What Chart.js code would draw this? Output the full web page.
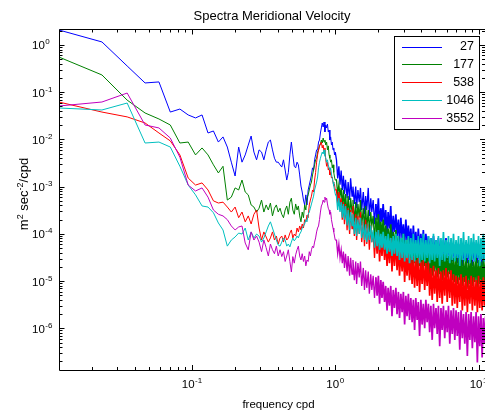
<!DOCTYPE html>
<html><head><meta charset="utf-8">
<script src="https://cdn.jsdelivr.net/npm/chart.js@4.4.1/dist/chart.umd.min.js"></script>
<style>html,body{margin:0;padding:0;background:#fff;}#wrap{width:485px;height:414px;}</style>
</head><body><div id="wrap"><canvas id="c" width="485" height="414"></canvas></div>
<script>
// ---- data ----
const freqLow = [0.01176,0.02353,0.03529,0.04706,0.05882,0.07059,0.08235,0.09412,0.1059,0.1176,
0.1294,0.1412,0.1529,0.1647,0.1765,0.1882,0.2,0.2118,0.2235,0.2353,
0.2471,0.2588,0.2706,0.2824,0.2941,0.3059,0.3176,0.3294,0.3412,0.3529,
0.3647,0.3765,0.3882,0.4,0.4118,0.4235,0.4353,0.4471,0.4588,0.4706,
0.4824,0.4941,0.5059,0.5176,0.5294,0.5412,0.5529,0.5647,0.5765,0.5882,
0.6,0.6118,0.6235,0.6353,0.6471,0.6588,0.6706,0.6824,0.6941,0.7059,
0.7176,0.7294,0.7412,0.7529,0.7647,0.7765,0.7882,0.8,0.8118,0.8235,
0.8353,0.8471,0.8588,0.8706,0.8824,0.8941,0.9059,0.9176,0.9294,0.9412,
0.9529,0.9647,0.9765,0.9882,1.0];
const freqHigh = [1.02,1.04,1.06,1.08,1.10,1.12,1.14,1.16,1.18,1.21,
1.23,1.26,1.28,1.31,1.33,1.36,1.39,1.41,1.44,1.47,
1.50,1.53,1.57,1.60,1.63,1.66,1.70,1.73,1.77,1.80,
1.84,1.88,1.92,1.96,2.00,2.04,2.08,2.12,2.16,2.21,
2.25,2.30,2.34,2.39,2.44,2.49,2.54,2.59,2.65,2.70,
2.76,2.81,2.87,2.93,2.99,3.05,3.11,3.17,3.24,3.30,
3.37,3.44,3.51,3.58,3.65,3.73,3.80,3.88,3.96,4.04,
4.12,4.21,4.29,4.38,4.47,4.56,4.65,4.75,4.85,4.94,
5.05,5.15,5.25,5.36,5.47,5.58,5.69,5.81,5.93,6.05,
6.17,6.30,6.43,6.56,6.69,6.83,6.97,7.11,7.25,7.40,
7.55,7.71,7.86,8.02,8.19,8.36,8.53,8.70,8.88,9.06,
9.24,9.43,9.62,9.82,10.0,10.2,10.4,10.6,10.8,11.0,
11.2];

const psd27Low = [2.08,1.16,0.359,0.157,0.165,0.038,0.044,0.033,0.0285,0.033,
0.0137,0.0151,0.0088,0.0113,0.0069,0.0033,0.00168,0.0069,0.0033,0.0047,
0.0076,0.0118,0.0054,0.0037,0.0060,0.0054,0.0037,0.0060,0.0088,0.0097,
0.0060,0.0040,0.0033,0.0033,0.0029,0.0026,0.0037,0.00225,0.00138,0.0020,
0.0047,0.0088,0.0047,0.0027,0.0025,0.0033,0.0029,0.00177,0.00103,7.7e-4,
5.2e-4,4.1e-4,6.7e-4,4.1e-4,8.5e-4,1.08e-3,1.38e-3,1.77e-3,2.5e-3,2.25e-3,
3.7e-3,4.7e-3,6.0e-3,6.0e-3,8.8e-3,9.7e-3,0.0137,0.0175,0.0223,0.0183,
0.0234,0.0144,0.0202,0.0175,0.0212,0.0144,0.0158,0.0097,0.0113,0.0076,
0.0088,0.0060,0.0066,0.0047,0.0054];
const psd27High = [3.7e-3,1.5e-3,2.7e-3,1.1e-3,2.2e-3,8.5e-4,1.7e-3,7.0e-4,1.4e-3,5.7e-4,
1.25e-3,5.2e-4,1.5e-3,6.3e-4,1.0e-3,4.3e-4,1.0e-3,3.5e-4,8.5e-4,4.7e-4,
9.4e-4,3.2e-4,7.7e-4,2.6e-4,6.3e-4,3.2e-4,9.4e-4,2.4e-4,5.7e-4,2.9e-4,
5.2e-4,1.6e-4,4.3e-4,2.0e-4,5.7e-4,1.3e-4,3.5e-4,1.8e-4,4.3e-4,1.5e-4,
3.2e-4,1.0e-4,2.9e-4,1.3e-4,3.9e-4,8.2e-5,2.4e-4,1.1e-4,2.6e-4,9.0e-5,
2.0e-4,6.7e-5,2.2e-4,8.2e-5,1.6e-4,5.5e-5,2.0e-4,7.4e-5,1.5e-4,6.1e-5,
1.3e-4,4.6e-5,1.5e-4,5.5e-5,1.1e-4,4.2e-5,1.3e-4,5.1e-5,1.0e-4,4.6e-5,
1.2e-4,3.8e-5,1.0e-4,5.1e-5,9.0e-5,3.4e-5,8.2e-5,3.1e-5,9.0e-5,3.8e-5,
7.4e-5,2.8e-5,8.2e-5,3.4e-5,6.7e-5,2.6e-5,7.4e-5,3.4e-5,8.2e-5,2.8e-5,
6.7e-5,3.1e-5,7.4e-5,2.6e-5,6.1e-5,2.8e-5,6.7e-5,2.4e-5,6.1e-5,2.6e-5,
7.4e-5,2.1e-5,5.5e-5,2.8e-5,6.7e-5,2.4e-5,5.5e-5,2.6e-5,6.1e-5,2.1e-5,
6.7e-5,2.6e-5,5.1e-5,2.4e-5,6.1e-5,2.8e-5,5.5e-5,2.1e-5,6.1e-5,2.6e-5,
5.1e-5];

const psd177Low = [0.557,0.232,0.068,0.0363,0.0271,0.0202,0.0084,0.0088,0.0047,0.0066,
0.0047,0.0029,0.00195,0.0027,5.2e-4,6.0e-4,9.4e-4,8.5e-4,1.38e-3,7.7e-4,
6.7e-4,4.1e-4,3.7e-4,2.9e-4,3.5e-4,5.2e-4,2.9e-4,4.1e-4,3.2e-4,4.5e-4,
2.4e-4,3.5e-4,4.1e-4,2.9e-4,3.5e-4,2.6e-4,2.2e-4,3.2e-4,3.9e-4,2.6e-4,
4.7e-4,5.7e-4,3.2e-4,2.6e-4,4.3e-4,3.2e-4,3.9e-4,2.4e-4,1.8e-4,2.9e-4,
2.2e-4,4.1e-4,3.2e-4,5.7e-4,6.7e-4,8.5e-4,1.08e-3,1.25e-3,1.77e-3,2.25e-3,
2.9e-3,3.7e-3,4.0e-3,5.4e-3,6.0e-3,7.3e-3,8.0e-3,9.7e-3,8.4e-3,0.0107,
8.8e-3,9.7e-3,7.6e-3,8.8e-3,6.0e-3,7.3e-3,4.7e-3,4.0e-3,3.3e-3,3.7e-3,
2.5e-3,2.9e-3,2.0e-3,1.6e-3,1.38e-3];
const psd177High = [1.4e-3,7.0e-4,1.1e-3,6.3e-4,9.4e-4,3.9e-4,8.5e-4,3.2e-4,7.0e-4,2.6e-4,
6.3e-4,2.2e-4,5.7e-4,2.9e-4,5.2e-4,1.8e-4,4.7e-4,1.6e-4,4.3e-4,2.2e-4,
5.2e-4,1.5e-4,3.5e-4,1.2e-4,3.9e-4,1.3e-4,3.2e-4,1.1e-4,2.9e-4,1.5e-4,
2.4e-4,7.4e-5,2.2e-4,9.0e-5,2.6e-4,6.1e-5,1.8e-4,8.2e-5,2.0e-4,6.7e-5,
1.5e-4,4.6e-5,1.3e-4,5.5e-5,1.6e-4,3.8e-5,1.1e-4,5.1e-5,1.2e-4,4.2e-5,
9.0e-5,2.8e-5,8.2e-5,3.4e-5,1.0e-4,2.4e-5,7.4e-5,3.1e-5,8.2e-5,2.6e-5,
6.1e-5,1.9e-5,6.7e-5,2.4e-5,5.5e-5,1.7e-5,6.1e-5,2.1e-5,5.1e-5,1.6e-5,
5.5e-5,2.1e-5,4.6e-5,1.7e-5,5.1e-5,1.4e-5,4.2e-5,1.3e-5,4.6e-5,1.6e-5,
3.8e-5,1.2e-5,4.2e-5,1.4e-5,3.4e-5,1.05e-5,3.8e-5,1.3e-5,4.2e-5,1.2e-5,
3.4e-5,1.4e-5,3.8e-5,1.05e-5,3.1e-5,9.6e-6,3.4e-5,8.7e-6,3.1e-5,1.05e-5,
3.4e-5,7.9e-6,2.8e-5,9.6e-6,3.1e-5,7.2e-6,2.8e-5,8.7e-6,3.4e-5,7.9e-6,
2.6e-5,9.6e-6,3.1e-5,7.2e-6,2.8e-5,8.7e-6,2.6e-5,7.9e-6,3.1e-5,8.7e-6,
2.6e-5];

const psd538Low = [0.062,0.038,0.030,0.0223,0.0137,0.0093,0.0047,1.52e-3,1.08e-3,1.2e-3,
8.5e-4,5.0e-4,4.5e-4,4.7e-4,3.7e-4,2.9e-4,3.7e-4,2.2e-4,2.9e-4,1.8e-4,
2.4e-4,1.62e-4,2.6e-4,3.2e-4,1.33e-4,7.4e-5,1.1e-4,8.6e-5,6.7e-5,8.2e-5,
1.1e-4,7.4e-5,9.0e-5,6.1e-5,8.2e-5,9.0e-5,6.7e-5,9.5e-5,7.4e-5,8.2e-5,
1.04e-4,1.21e-4,8.2e-5,9.9e-5,9.0e-5,1.33e-4,1.1e-4,1.47e-4,1.21e-4,1.62e-4,
1.33e-4,2.0e-4,1.8e-4,2.5e-4,2.2e-4,4.1e-4,5.2e-4,6.3e-4,8.5e-4,7.7e-4,
1.38e-3,2.0e-3,3.3e-3,4.7e-3,6.0e-3,7.3e-3,8.0e-3,8.8e-3,6.6e-3,7.6e-3,
5.4e-3,6.6e-3,3.7e-3,2.7e-3,3.3e-3,2.25e-3,2.5e-3,1.77e-3,2.0e-3,1.52e-3,
1.6e-3,1.25e-3,1.03e-3,1.13e-3,8.5e-4];
const psd538High = [8.5e-4,4.3e-4,7.7e-4,3.9e-4,5.7e-4,2.0e-4,4.7e-4,1.6e-4,4.3e-4,1.2e-4,
3.5e-4,1.0e-4,3.2e-4,1.3e-4,3.9e-4,9.0e-5,2.6e-4,7.4e-5,2.4e-4,1.0e-4,
2.9e-4,6.7e-5,1.8e-4,5.5e-5,2.0e-4,6.1e-5,1.6e-4,4.6e-5,1.5e-4,6.7e-5,
1.1e-4,3.1e-5,1.0e-4,3.8e-5,1.2e-4,2.6e-5,9.0e-5,3.4e-5,1.0e-4,2.8e-5,
7.4e-5,2.1e-5,6.7e-5,2.4e-5,8.2e-5,1.6e-5,6.1e-5,2.1e-5,6.7e-5,1.7e-5,
4.6e-5,1.3e-5,4.2e-5,1.6e-5,5.1e-5,9.6e-6,3.8e-5,1.3e-5,4.2e-5,1.05e-5,
3.1e-5,8.7e-6,3.4e-5,7.2e-6,2.8e-5,7.9e-6,3.1e-5,5.9e-6,2.6e-5,8.7e-6,
2.8e-5,6.5e-6,2.4e-5,7.9e-6,2.6e-5,4.9e-6,1.9e-5,4.0e-6,2.1e-5,5.4e-6,
1.7e-5,3.6e-6,1.9e-5,4.4e-6,1.6e-5,3.3e-6,1.7e-5,4.9e-6,1.9e-5,3.6e-6,
1.6e-5,4.4e-6,1.7e-5,3.0e-6,1.4e-5,3.3e-6,1.3e-5,2.7e-6,1.2e-5,3.6e-6,
1.4e-5,2.4e-6,1.2e-5,3.0e-6,1.3e-5,2.2e-6,1.05e-5,3.3e-6,1.3e-5,2.4e-6,
1.2e-5,3.0e-6,1.05e-5,2.2e-6,1.3e-5,2.7e-6,1.05e-5,2.4e-6,1.2e-5,3.0e-6,
1.05e-5];

const psd1046Low = [0.0463,0.042,0.059,8.4e-3,8.8e-3,6.9e-3,2.7e-3,1.08e-3,6.7e-4,3.9e-4,
3.7e-4,2.8e-4,1.7e-4,1.21e-4,5.5e-5,7.4e-5,8.6e-5,1.04e-4,9.9e-5,1.33e-4,
7.4e-5,1.1e-4,8.2e-5,9.9e-5,9.0e-5,6.7e-5,8.2e-5,1.1e-4,1.47e-4,1.8e-4,
1.33e-4,9.9e-5,7.4e-5,5.8e-5,5.5e-5,6.7e-5,8.2e-5,7.4e-5,5.5e-5,6.1e-5,
5.3e-5,6.7e-5,8.2e-5,7.1e-5,7.8e-5,9.0e-5,8.2e-5,9.9e-5,1.1e-4,1.33e-4,
1.47e-4,1.62e-4,2.0e-4,1.8e-4,2.6e-4,2.9e-4,3.5e-4,4.3e-4,5.2e-4,6.3e-4,
8.5e-4,1.03e-3,1.25e-3,1.6e-3,2.5e-3,3.3e-3,4.0e-3,4.7e-3,5.4e-3,4.9e-3,
6.0e-3,4.5e-3,4.0e-3,3.3e-3,3.7e-3,2.9e-3,2.5e-3,2.25e-3,2.5e-3,1.85e-3,
1.52e-3,1.25e-3,1.03e-3,8.5e-4,7.0e-4];
const psd1046High = [6.3e-4,3.2e-4,5.7e-4,2.9e-4,4.7e-4,2.2e-4,4.3e-4,2.0e-4,3.9e-4,1.5e-4,
3.2e-4,1.2e-4,2.9e-4,1.5e-4,2.6e-4,1.0e-4,2.2e-4,9.0e-5,2.0e-4,1.0e-4,
2.2e-4,8.2e-5,1.5e-4,7.4e-5,1.6e-4,6.7e-5,1.3e-4,7.4e-5,1.5e-4,6.7e-5,
1.2e-4,5.1e-5,1.1e-4,5.5e-5,1.2e-4,4.6e-5,1.0e-4,5.1e-5,1.1e-4,4.6e-5,
9.0e-5,3.8e-5,1.0e-4,4.2e-5,8.2e-5,3.4e-5,9.0e-5,3.8e-5,1.0e-4,3.4e-5,
9.0e-5,2.8e-5,8.2e-5,3.1e-5,1.0e-4,2.6e-5,7.4e-5,3.1e-5,9.0e-5,2.4e-5,
8.2e-5,2.8e-5,1.0e-4,2.6e-5,7.4e-5,3.1e-5,9.0e-5,2.4e-5,8.2e-5,2.8e-5,
1.0e-4,2.6e-5,7.4e-5,3.1e-5,9.0e-5,2.4e-5,8.2e-5,2.8e-5,1.0e-4,2.6e-5,
7.4e-5,3.1e-5,9.0e-5,2.1e-5,8.2e-5,2.8e-5,1.1e-4,2.6e-5,7.4e-5,3.1e-5,
9.0e-5,2.4e-5,8.2e-5,2.8e-5,1.0e-4,2.6e-5,7.4e-5,3.1e-5,9.0e-5,2.1e-5,
8.2e-5,2.8e-5,1.1e-4,2.6e-5,7.4e-5,3.1e-5,9.0e-5,2.4e-5,8.2e-5,2.8e-5,
1.0e-4,2.6e-5,7.4e-5,3.1e-5,9.0e-5,2.1e-5,8.2e-5,2.8e-5,1.0e-4,2.6e-5,
8.2e-5];

const psd3552Low = [0.051,0.062,0.096,0.0202,0.0175,0.0107,4.2e-3,1.08e-3,8.1e-4,9.4e-4,
6.0e-4,3.2e-4,2.6e-4,2.4e-4,2.0e-4,1.47e-4,1.21e-4,1.4e-4,1.47e-4,6.4e-5,
4.6e-5,1.1e-4,7.4e-5,9.0e-5,6.7e-5,4.2e-5,7.4e-5,5.1e-5,3.4e-5,6.1e-5,
4.6e-5,3.8e-5,5.5e-5,3.4e-5,4.6e-5,3.3e-5,4.2e-5,2.6e-5,3.4e-5,4.6e-5,
2.6e-5,1.56e-5,3.3e-5,2.4e-5,3.6e-5,4.6e-5,5.5e-5,3.4e-5,2.8e-5,3.8e-5,
2.6e-5,3.4e-5,2.1e-5,2.8e-5,2.6e-5,4.2e-5,3.4e-5,4.6e-5,5.5e-5,5.1e-5,
6.7e-5,8.2e-5,1.1e-4,1.33e-4,1.47e-4,2.0e-4,2.9e-4,3.9e-4,4.3e-4,5.2e-4,
4.7e-4,6.0e-4,5.2e-4,5.7e-4,4.3e-4,3.5e-4,3.2e-4,2.6e-4,2.9e-4,2.0e-4,
1.62e-4,1.33e-4,1.1e-4,9.0e-5,7.4e-5];
const psd3552High = [7.4e-5,3.8e-5,6.1e-5,3.1e-5,4.6e-5,2.4e-5,4.2e-5,1.9e-5,3.8e-5,1.6e-5,
3.4e-5,1.3e-5,3.1e-5,1.4e-5,2.8e-5,1.05e-5,2.6e-5,8.7e-6,2.4e-5,1.2e-5,
2.6e-5,7.9e-6,1.9e-5,6.5e-6,1.7e-5,7.2e-6,1.6e-5,5.4e-6,1.4e-5,6.5e-6,
1.3e-5,4.4e-6,1.2e-5,4.9e-6,1.3e-5,3.3e-6,1.05e-5,4.4e-6,9.6e-6,3.6e-6,
7.9e-6,2.4e-6,7.2e-6,3.0e-6,7.9e-6,1.8e-6,6.5e-6,2.7e-6,7.2e-6,2.0e-6,
5.9e-6,1.65e-6,5.4e-6,2.2e-6,5.9e-6,1.2e-6,4.9e-6,1.8e-6,5.4e-6,1.5e-6,
4.4e-6,1.35e-6,4.0e-6,9.2e-7,4.4e-6,1.5e-6,3.6e-6,6.9e-7,4.0e-6,1.2e-6,
3.3e-6,1.0e-6,4.0e-6,1.35e-6,3.3e-6,8.3e-7,3.0e-6,5.7e-7,3.3e-6,1.0e-6,
2.7e-6,7.6e-7,3.0e-6,4.2e-7,2.7e-6,9.2e-7,3.0e-6,6.2e-7,2.4e-6,8.3e-7,
3.0e-6,4.7e-7,2.4e-6,7.6e-7,2.7e-6,5.7e-7,2.4e-6,6.9e-7,2.2e-6,3.5e-7,
2.4e-6,6.2e-7,2.0e-6,4.7e-7,2.2e-6,2.6e-7,2.0e-6,5.7e-7,2.2e-6,3.8e-7,
1.8e-6,5.1e-7,2.2e-6,1.9e-7,1.8e-6,4.2e-7,2.0e-6,2.4e-7,1.65e-6,4.7e-7,
1.8e-6];

const seriesNames = ['27','177','538','1046','3552'];
const seriesColors = ['#0000ff','#008000','#ff0000','#00bfbf','#bf00bf'];
const xTickExps = [-1, 0, 1];
const yTickExps = [0, -1, -2, -3, -4, -5, -6];
const titleText = 'Spectra Meridional Velocity';
const xTitle = 'frequency cpd';

// ---- build ----
const freq = freqLow.concat(freqHigh);
const seriesValues = [
  psd27Low.concat(psd27High),
  psd177Low.concat(psd177High),
  psd538Low.concat(psd538High),
  psd1046Low.concat(psd1046High),
  psd3552Low.concat(psd3552High)
];

const FONT = '"Liberation Sans", Arial, Helvetica, sans-serif';

function drawPow(ctx, x, baseline, exp, baseSize, supSize, align) {
  ctx.font = baseSize + 'px ' + FONT;
  const w10 = ctx.measureText('10').width;
  ctx.font = supSize + 'px ' + FONT;
  const sup = String(exp);
  const ws = ctx.measureText(sup).width;
  let x0 = x;
  if (align === 'center') x0 = x - (w10 + 0.5 + ws) / 2;
  ctx.textAlign = 'left';
  ctx.textBaseline = 'alphabetic';
  ctx.font = baseSize + 'px ' + FONT;
  ctx.fillText('10', x0, baseline);
  ctx.font = supSize + 'px ' + FONT;
  ctx.fillText(sup, x0 + w10 + 0.5, baseline - 5);
}

const decorations = {
  id: 'decorations',
  afterDraw(chart) {
    const ctx = chart.ctx;
    const a = chart.chartArea;
    const xs = chart.scales.x, ys = chart.scales.y;
    ctx.save();
    ctx.strokeStyle = '#000';
    ctx.lineWidth = 1;
    ctx.beginPath();
    ctx.moveTo(a.left + 0.5, a.bottom + 0.5);
    ctx.lineTo(a.left + 0.5, a.top + 0.5);
    ctx.lineTo(a.right, a.top + 0.5);
    ctx.moveTo(a.left + 0.5, a.bottom + 0.5);
    ctx.lineTo(a.right, a.bottom + 0.5);
    for (let e = -2; e <= 1; e++) {
      for (let m = 1; m <= 9; m++) {
        const v = m * Math.pow(10, e);
        if (v < xs.min || v > xs.max) continue;
        const px = Math.round(xs.getPixelForValue(v)) + 0.5;
        const len = m === 1 ? 5 : 3;
        ctx.moveTo(px, a.bottom); ctx.lineTo(px, a.bottom - len);
        ctx.moveTo(px, a.top + 0.5); ctx.lineTo(px, a.top + 0.5 + len);
      }
    }
    for (let e = -7; e <= 0; e++) {
      for (let m = 1; m <= 9; m++) {
        const v = m * Math.pow(10, e);
        if (v < ys.min || v > ys.max) continue;
        const py = Math.round(ys.getPixelForValue(v)) + 0.5;
        const len = m === 1 ? 5 : 3;
        ctx.moveTo(a.left + 0.5, py); ctx.lineTo(a.left + 0.5 + len, py);
        ctx.moveTo(a.right, py); ctx.lineTo(a.right - len, py);
      }
    }
    ctx.stroke();

    ctx.fillStyle = '#000';
    xTickExps.forEach(e => {
      const px = xs.getPixelForValue(Math.pow(10, e));
      drawPow(ctx, px, 388, e, 11.5, 8, 'center');
    });
    yTickExps.forEach(e => {
      const py = ys.getPixelForValue(Math.pow(10, e));
      drawPow(ctx, 32, py + 4.5, e, 11.5, 8, 'left');
    });

    ctx.font = '13px ' + FONT;
    ctx.textAlign = 'center';
    ctx.textBaseline = 'alphabetic';
    ctx.fillText(titleText, 272, 20);
    ctx.font = '11.5px ' + FONT;
    ctx.fillText(xTitle, 278.5, 408);

    const parts = [['m', 13, 0], ['2', 9, 5], [' sec', 13, 0], ['-2', 9, 5], ['/cpd', 13, 0]];
    let total = 0;
    parts.forEach(p => { ctx.font = p[1] + 'px ' + FONT; p.push(ctx.measureText(p[0]).width); total += p[3]; });
    ctx.save();
    ctx.translate(27.5, 194);
    ctx.rotate(-Math.PI / 2);
    ctx.textAlign = 'left';
    let lx = -total / 2;
    parts.forEach(p => {
      ctx.font = p[1] + 'px ' + FONT;
      ctx.fillText(p[0], lx, -p[2]);
      lx += p[3];
    });
    ctx.restore();

    const bx = 394.5, by = 36.5, bw = 85, bh = 93;
    ctx.fillStyle = '#fff';
    ctx.fillRect(bx, by, bw, bh);
    ctx.strokeStyle = '#000';
    ctx.strokeRect(bx, by, bw, bh);
    chart.data.datasets.forEach((ds, i) => {
      const ry = 46.5 + i * 17.9;
      ctx.strokeStyle = ds.borderColor;
      ctx.beginPath();
      ctx.moveTo(402, Math.round(ry) + 0.5);
      ctx.lineTo(442, Math.round(ry) + 0.5);
      ctx.stroke();
      ctx.fillStyle = '#000';
      ctx.font = '12.5px ' + FONT;
      ctx.textAlign = 'right';
      ctx.textBaseline = 'middle';
      ctx.fillText(ds.label, 474, ry + 0.5);
    });
    ctx.restore();
  }
};

new Chart(document.getElementById('c'), {
  type: 'line',
  data: {
    datasets: seriesValues.map((vals, i) => ({
      label: seriesNames[i],
      data: freq.map((f, j) => ({ x: f, y: vals[j] })),
      borderColor: seriesColors[i],
      backgroundColor: seriesColors[i],
      borderWidth: 1,
      pointRadius: 0,
      fill: false,
      tension: 0,
      order: seriesNames.length - i,
      segment: { borderWidth: c => (c.p0.parsed.x >= 1.9 ? 1.7 : (c.p0.parsed.x >= 1.0 ? 1.3 : 1)) }
    }))
  },
  options: {
    responsive: false,
    animation: false,
    devicePixelRatio: 1,
    layout: { padding: { top: 29, left: 0, right: 0, bottom: 0 } },
    plugins: { legend: { display: false }, title: { display: false }, tooltip: { enabled: false } },
    scales: {
      x: {
        type: 'logarithmic', position: 'bottom', min: 0.0118, max: 11.1, bounds: 'data',
        ticks: { display: false }, grid: { display: false }, border: { display: false },
        afterFit(s) { s.height = 44; }
      },
      y: {
        type: 'logarithmic', position: 'left', min: 1.31e-7, max: 2.18, bounds: 'data',
        ticks: { display: false }, grid: { display: false }, border: { display: false },
        afterFit(s) { s.width = 59; }
      }
    }
  },
  plugins: [decorations]
});
</script>
</body></html>
